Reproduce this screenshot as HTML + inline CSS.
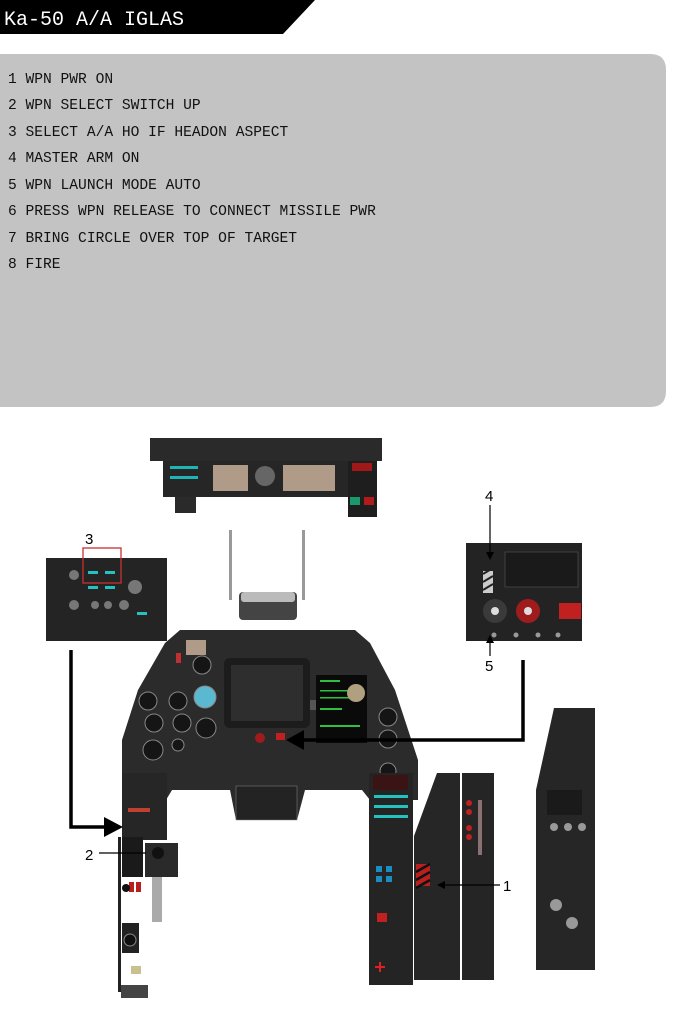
<!DOCTYPE html>
<html><head><meta charset="utf-8"><style>
html,body{margin:0;padding:0;background:#fff;width:683px;height:1024px;overflow:hidden}
svg{display:block}
.t{font-family:"Liberation Mono",monospace;font-size:14.6px;fill:#111}
</style></head><body>
<svg width="683" height="1024" viewBox="0 0 683 1024">
<!-- title -->
<polygon points="0,0 315,0 283,34 0,34" fill="#000"/>
<text x="4" y="25" font-family="Liberation Mono,monospace" font-size="20" fill="#fff">Ka-50 A/A IGLAS</text>
<!-- grey box -->
<path d="M0,54 H650 Q666,54 666,70 V391 Q666,407 650,407 H0 Z" fill="#c3c3c3"/>
<text class="t" x="8" y="83">1 WPN PWR ON</text>
<text class="t" x="8" y="109">2 WPN SELECT SWITCH UP</text>
<text class="t" x="8" y="136">3 SELECT A/A HO IF HEADON ASPECT</text>
<text class="t" x="8" y="162">4 MASTER ARM ON</text>
<text class="t" x="8" y="189">5 WPN LAUNCH MODE AUTO</text>
<text class="t" x="8" y="215">6 PRESS WPN RELEASE TO CONNECT MISSILE PWR</text>
<text class="t" x="8" y="242">7 BRING CIRCLE OVER TOP OF TARGET</text>
<text class="t" x="8" y="268">8 FIRE</text>

<!-- top panel -->
<rect x="150" y="438" width="232" height="23" fill="#2a2a2a"/>
<rect x="163" y="461" width="213" height="36" fill="#262626"/>
<g fill="#b09a88"><rect x="213" y="465" width="35" height="26"/><rect x="283" y="465" width="52" height="26"/></g>
<g fill="#1fb3b3"><rect x="170" y="466" width="28" height="3"/><rect x="170" y="476" width="28" height="3"/></g>
<circle cx="265" cy="476" r="10" fill="#666"/>
<rect x="175" y="497" width="21" height="16" fill="#2a2a2a"/>
<rect x="348" y="461" width="29" height="56" fill="#1e1e1e"/>
<rect x="352" y="463" width="20" height="8" fill="#a01818"/>
<rect x="350" y="497" width="10" height="8" fill="#1a9a6a"/><rect x="364" y="497" width="10" height="8" fill="#b01c1c"/>

<!-- left panel 3 -->
<rect x="46" y="558" width="121" height="83" fill="#242424"/>
<rect x="83" y="548" width="38" height="35" fill="none" stroke="#c83030" stroke-width="1.3"/>
<g fill="#25c0c0"><rect x="88" y="571" width="10" height="3"/><rect x="105" y="571" width="10" height="3"/><rect x="88" y="586" width="10" height="3"/><rect x="105" y="586" width="10" height="3"/><rect x="137" y="612" width="10" height="3"/></g>
<g fill="#777"><circle cx="74" cy="575" r="5"/><circle cx="74" cy="605" r="5"/><circle cx="95" cy="605" r="4"/><circle cx="108" cy="605" r="4"/><circle cx="124" cy="605" r="5"/><circle cx="135" cy="587" r="7"/></g>
<text x="85" y="544" font-family="Liberation Sans,sans-serif" font-size="15" fill="#000">3</text>

<!-- right panel 4/5 -->
<rect x="466" y="543" width="116" height="98" fill="#232323"/>
<rect x="505" y="552" width="73" height="35" fill="#1a1a1a" stroke="#555" stroke-width="0.6"/>
<rect x="483" y="571" width="10" height="22" fill="#ccc"/>
<path d="M483,574 l10,-6 M483,582 l10,-6 M483,590 l10,-6" stroke="#222" stroke-width="2"/>
<circle cx="495" cy="611" r="12" fill="#3a3a3a"/><circle cx="495" cy="611" r="4" fill="#ddd"/>
<circle cx="528" cy="611" r="12" fill="#a01c1c"/><circle cx="528" cy="611" r="4" fill="#ddd"/>
<rect x="559" y="603" width="22" height="16" fill="#c02020"/>
<g fill="#999"><circle cx="494" cy="635" r="2.5"/><circle cx="516" cy="635" r="2.5"/><circle cx="538" cy="635" r="2.5"/><circle cx="558" cy="635" r="2.5"/></g>
<text x="485" y="501" font-family="Liberation Sans,sans-serif" font-size="15" fill="#000">4</text>
<line x1="490" y1="505" x2="490" y2="555" stroke="#000" stroke-width="1.2"/>
<polygon points="486,552 494,552 490,560" fill="#000"/>
<text x="485" y="671" font-family="Liberation Sans,sans-serif" font-size="15" fill="#000">5</text>
<line x1="490" y1="656" x2="490" y2="640" stroke="#000" stroke-width="1.2"/>
<polygon points="486,643 494,643 490,635" fill="#000"/>

<!-- HUD rods -->
<rect x="229" y="530" width="3" height="70" fill="#999"/><rect x="302" y="530" width="3" height="70" fill="#999"/>
<rect x="239" y="592" width="58" height="28" rx="4" fill="#444"/>
<rect x="241" y="592" width="54" height="10" rx="3" fill="#bbb"/>

<!-- main cockpit -->
<polygon points="180,630 355,630 370,643 395,690 418,760 418,800 370,800 362,790 305,790 297,820 236,820 230,790 172,790 166,800 122,800 122,740 138,690 165,643" fill="#2b2b2b"/>
<rect x="224" y="658" width="86" height="70" rx="6" fill="#1c1c1c"/>
<rect x="231" y="665" width="72" height="56" fill="#2e2e2e"/>
<rect x="316" y="675" width="51" height="68" fill="#0a0a0a"/>
<g fill="#2fc040"><rect x="320" y="680" width="20" height="2"/><rect x="320" y="690" width="40" height="1.5"/><rect x="320" y="697" width="40" height="1.5"/><rect x="320" y="708" width="22" height="2"/><rect x="320" y="725" width="40" height="2"/></g>
<g fill="#151515" stroke="#888" stroke-width="1">
<circle cx="148" cy="701" r="9"/><circle cx="178" cy="701" r="9"/><circle cx="202" cy="665" r="9"/><circle cx="154" cy="723" r="9"/><circle cx="182" cy="723" r="9"/><circle cx="206" cy="728" r="10"/><circle cx="153" cy="750" r="10"/><circle cx="178" cy="745" r="6"/><circle cx="388" cy="717" r="9"/><circle cx="388" cy="739" r="9"/><circle cx="388" cy="771" r="8"/>
</g>
<circle cx="205" cy="697" r="11" fill="#5ab8d0" stroke="#888"/>
<circle cx="356" cy="693" r="9" fill="#b0a080"/>
<rect x="310" y="700" width="6" height="10" fill="#555"/>
<rect x="176" y="653" width="5" height="10" fill="#c03030"/>
<rect x="186" y="640" width="20" height="15" fill="#b09a88"/>
<circle cx="260" cy="738" r="5" fill="#a01c1c"/><rect x="276" y="733" width="9" height="7" fill="#c02020"/>
<!-- center console lower -->
<rect x="236" y="786" width="61" height="34" fill="#232323" stroke="#888" stroke-width="0.5"/>
<!-- left leg -->
<rect x="122" y="773" width="45" height="67" fill="#262626"/>
<rect x="128" y="808" width="22" height="4" fill="#c04030"/>
<rect x="118" y="837" width="3" height="155" fill="#222"/>
<rect x="122" y="837" width="21" height="40" fill="#1a1a1a"/>
<rect x="145" y="843" width="33" height="34" fill="#2a2a2a"/>
<circle cx="158" cy="853" r="6" fill="#111"/>
<rect x="152" y="877" width="10" height="45" fill="#aaa"/>
<g fill="#b82020"><rect x="129" y="882" width="5" height="10"/><rect x="136" y="882" width="5" height="10"/></g>
<circle cx="126" cy="888" r="4" fill="#111"/>
<rect x="122" y="923" width="17" height="30" fill="#222"/>
<circle cx="130" cy="940" r="6" fill="#111" stroke="#888"/>
<rect x="131" y="966" width="10" height="8" fill="#c8c090"/>
<rect x="121" y="985" width="27" height="13" fill="#444"/>
<text x="85" y="860" font-family="Liberation Sans,sans-serif" font-size="15" fill="#000">2</text>
<line x1="99" y1="853" x2="146" y2="853" stroke="#000" stroke-width="1.2"/>

<!-- right panels -->
<rect x="369" y="773" width="44" height="212" fill="#242424"/>
<rect x="373" y="775" width="35" height="15" fill="#3a1414"/>
<g fill="#25c0c0"><rect x="374" y="795" width="34" height="3"/><rect x="374" y="805" width="34" height="3"/><rect x="374" y="815" width="34" height="3"/></g>
<g fill="#1a8ec0"><rect x="376" y="866" width="6" height="6"/><rect x="386" y="866" width="6" height="6"/><rect x="376" y="876" width="6" height="6"/><rect x="386" y="876" width="6" height="6"/></g>
<rect x="377" y="913" width="10" height="9" fill="#c02020"/>
<path d="M375,967 h10 M380,962 v10" stroke="#e02020" stroke-width="2"/>
<polygon points="437,773 460,773 460,980 414,980 414,836" fill="#262626"/>
<rect x="416" y="864" width="14" height="22" fill="#b82020"/>
<path d="M416,872 l14,-8 M416,880 l14,-8 M416,888 l14,-8" stroke="#111" stroke-width="2.5"/>
<rect x="462" y="773" width="32" height="207" fill="#252525"/>
<g fill="#c02020"><circle cx="469" cy="803" r="3"/><circle cx="469" cy="812" r="3"/><circle cx="469" cy="828" r="3"/><circle cx="469" cy="837" r="3"/></g>
<rect x="478" y="800" width="4" height="55" fill="#8a7070"/>
<text x="503" y="891" font-family="Liberation Sans,sans-serif" font-size="15" fill="#000">1</text>
<line x1="443" y1="885" x2="500" y2="885" stroke="#000" stroke-width="1.2"/>
<polygon points="445,881 445,889 437,885" fill="#000"/>
<polygon points="554,708 595,708 595,970 536,970 536,790" fill="#262626"/>
<rect x="547" y="790" width="35" height="25" fill="#1a1a1a"/>
<g fill="#999"><circle cx="554" cy="827" r="4"/><circle cx="568" cy="827" r="4"/><circle cx="582" cy="827" r="4"/><circle cx="556" cy="905" r="6"/><circle cx="572" cy="923" r="6"/></g>

<!-- thick arrows -->
<path d="M71,650 V827 H110" fill="none" stroke="#000" stroke-width="3.5"/>
<polygon points="104,817 123,827 104,837" fill="#000"/>
<path d="M523,660 V740 H300" fill="none" stroke="#000" stroke-width="3.5"/>
<polygon points="304,730 286,740 304,750" fill="#000"/>
</svg>
</body></html>
